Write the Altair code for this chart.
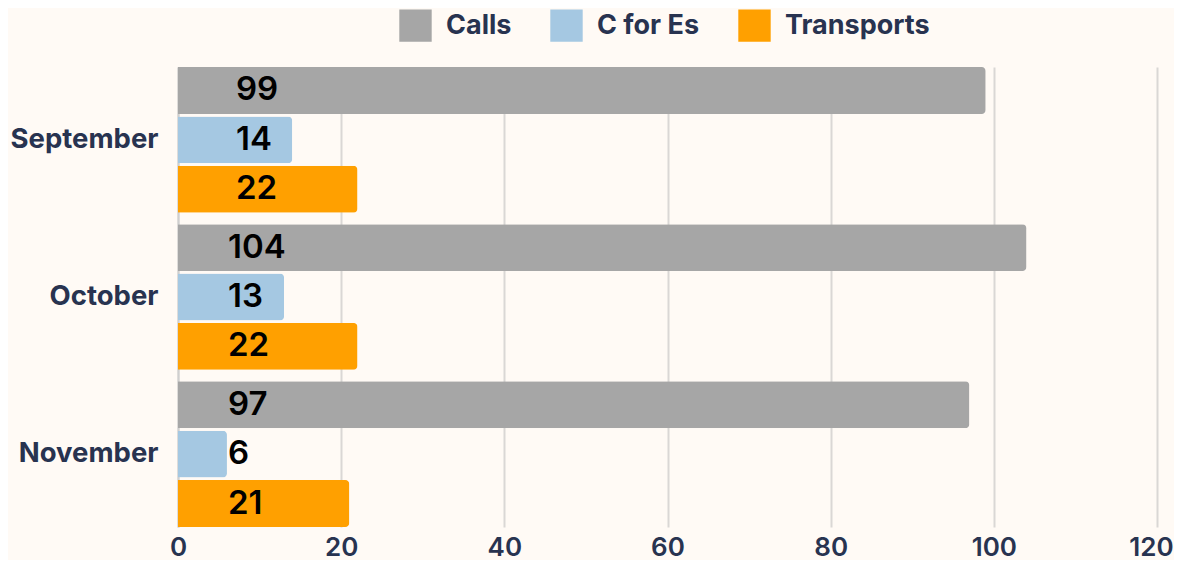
import altair as alt
import pandas as pd

months = ["September", "October", "November"]
series = ["Calls", "C for Es", "Transports"]
calls = [99, 104, 97]
c_for_es = [14, 13, 6]
transports = [22, 22, 21]
x_ticks = [0, 20, 40, 60, 80, 100, 120]
colors = ["#a6a6a6", "#a5c8e2", "#ffa000"]

rows = []
for i, m in enumerate(months):
    for s, vals in zip(series, [calls, c_for_es, transports]):
        rows.append({"month": m, "series": s, "value": vals[i]})
df = pd.DataFrame(rows)

FONT = "Inter"

y_enc = alt.Y("month:N", sort=months, title=None,
              scale=alt.Scale(paddingInner=0.073, paddingOuter=0),
              axis=alt.Axis(labelFontSize=27.5, labelFontWeight="bold", labelColor="#283350",
                            labelFont=FONT, ticks=False, domain=True, domainColor="#cfcfcf",
                            domainWidth=2, labelPadding=20, grid=False))
yoff = alt.YOffset("series:N", sort=series, scale=alt.Scale(paddingInner=0.05, paddingOuter=0))

bars = alt.Chart(df).mark_bar(cornerRadiusEnd=4).encode(
    x=alt.X("value:Q", title=None, scale=alt.Scale(domain=[0, 120], nice=False),
            axis=alt.Axis(values=x_ticks, grid=True, gridColor="#dad7d5", gridWidth=2,
                          domain=False, ticks=False, labelFontSize=26, labelFontWeight=600,
                          labelColor="#283350", labelFont=FONT, labelPadding=7,
                          labelFlush=False,
                          labelOffset=alt.expr("datum.value == 120 ? -6 : 0"))),
    y=y_enc,
    yOffset=yoff,
    color=alt.Color("series:N", sort=series,
                    scale=alt.Scale(domain=series, range=colors),
                    legend=alt.Legend(title=None, orient="none", legendX=221, legendY=-58,
                                      direction="horizontal", symbolType="square",
                                      symbolSize=1050, symbolStrokeWidth=0, symbolOpacity=1,
                                      labelFontSize=27, labelFontWeight="bold",
                                      labelColor="#283350", labelFont=FONT,
                                      labelOffset=14, columnPadding=38)),
)

text_base = alt.Chart(df).mark_text(align="left", baseline="middle", fontSize=33,
                                    fontWeight=600, color="#000000", font=FONT)
labels_sep = text_base.transform_filter(alt.datum.month == "September").encode(
    x=alt.value(58), y=y_enc, yOffset=yoff, text="value:Q")
labels_rest = text_base.transform_filter(alt.datum.month != "September").encode(
    x=alt.value(50), y=y_enc, yOffset=yoff, text="value:Q")

chart = alt.layer(bars, labels_sep, labels_rest).properties(
    width=979, height=460,
    autosize=alt.AutoSizeParams(type="none"),
    padding={"left": 170, "top": 59, "right": 17, "bottom": 33},
    background="#fffaf5",
).configure_view(stroke=None)

chart.save("out.html", embed_options={"renderer": "svg", "actions": False})
